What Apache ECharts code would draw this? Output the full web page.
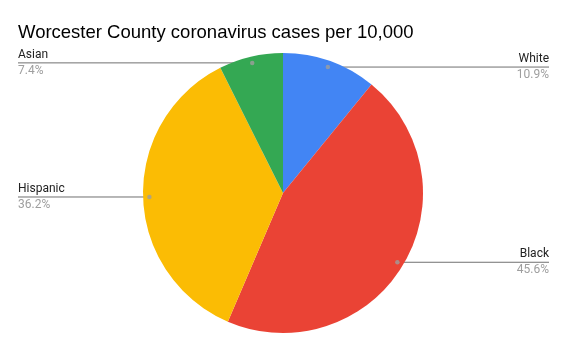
<!DOCTYPE html>
<html><head><meta charset="utf-8">
<script src="https://cdn.jsdelivr.net/npm/echarts@6/dist/echarts.min.js"></script>
<style>html,body{margin:0;padding:0;background:#fff}#c{width:567px;height:351px}</style>
</head><body><div id="c"></div>
<script>
const titleText = 'Worcester County coronavirus cases per 10,000';
const categories = ['White', 'Black', 'Hispanic', 'Asian'];
const shares = [10.9, 45.6, 36.2, 7.4];
const colors = ['#4285F4', '#EA4335', '#FBBC04', '#34A853'];

const total = shares.reduce((a, b) => a + b, 0);
let cum = 0;
const dots = shares.map(v => { const mid = cum + v / 2; cum += v; return [0.955, mid / total * 100]; });

const labelPieBase = {
  type: 'pie', center: [283, 193], radius: 133.7, startAngle: 90, clockwise: true, silent: true,
  itemStyle: { color: 'rgba(0,0,0,0)', borderWidth: 0 },
  data: categories.map((n, i) => ({ name: n, value: shares[i] }))
};

const chart = echarts.init(document.getElementById('c'));
chart.setOption({
  animation: false,
  title: { text: titleText, left: 13, top: 18, textStyle: { fontFamily: 'Liberation Sans, Arial', fontSize: 18.5, fontWeight: 'normal', color: '#000' } },
  polar: { center: [283, 193], radius: 140 },
  angleAxis: { type: 'value', min: 0, max: 100, startAngle: 90, clockwise: true, show: false },
  radiusAxis: { type: 'value', min: 0, max: 1, show: false },
  series: [
    {
      type: 'pie', center: [283, 193], radius: 140, startAngle: 90, clockwise: true,
      label: { show: false }, labelLine: { show: false }, silent: true,
      data: categories.map((n, i) => ({ name: n, value: shares[i], itemStyle: { color: colors[i] } }))
    },
    Object.assign({}, labelPieBase, {
      label: { show: true, position: 'outside', alignTo: 'edge', edgeDistance: 18, distanceToLabelLine: 0,
        formatter: () => '', fontSize: 1 },
      labelLine: { show: true, length: 0, length2: 10, lineStyle: { color: '#707070', width: 1 } }
    }),
    Object.assign({}, labelPieBase, {
      label: {
        show: true, position: 'outside', alignTo: 'edge', edgeDistance: 18, distanceToLabelLine: 0,
        formatter: p => '{n|' + p.name + '}\n{p|' + p.value.toFixed(1) + '%}',
        rich: {
          n: { fontFamily: 'Roboto', fontSize: 12, color: '#222', lineHeight: 16 },
          p: { fontFamily: 'Roboto', fontSize: 12, color: '#9e9e9e', lineHeight: 16 }
        }
      },
      labelLine: { show: false, length: 0, length2: 10 }
    }),
    {
      type: 'scatter', coordinateSystem: 'polar', symbolSize: 4.5, silent: true,
      itemStyle: { color: '#9e9e9e' }, data: dots, z: 5
    }
  ]
});
</script></body></html>
